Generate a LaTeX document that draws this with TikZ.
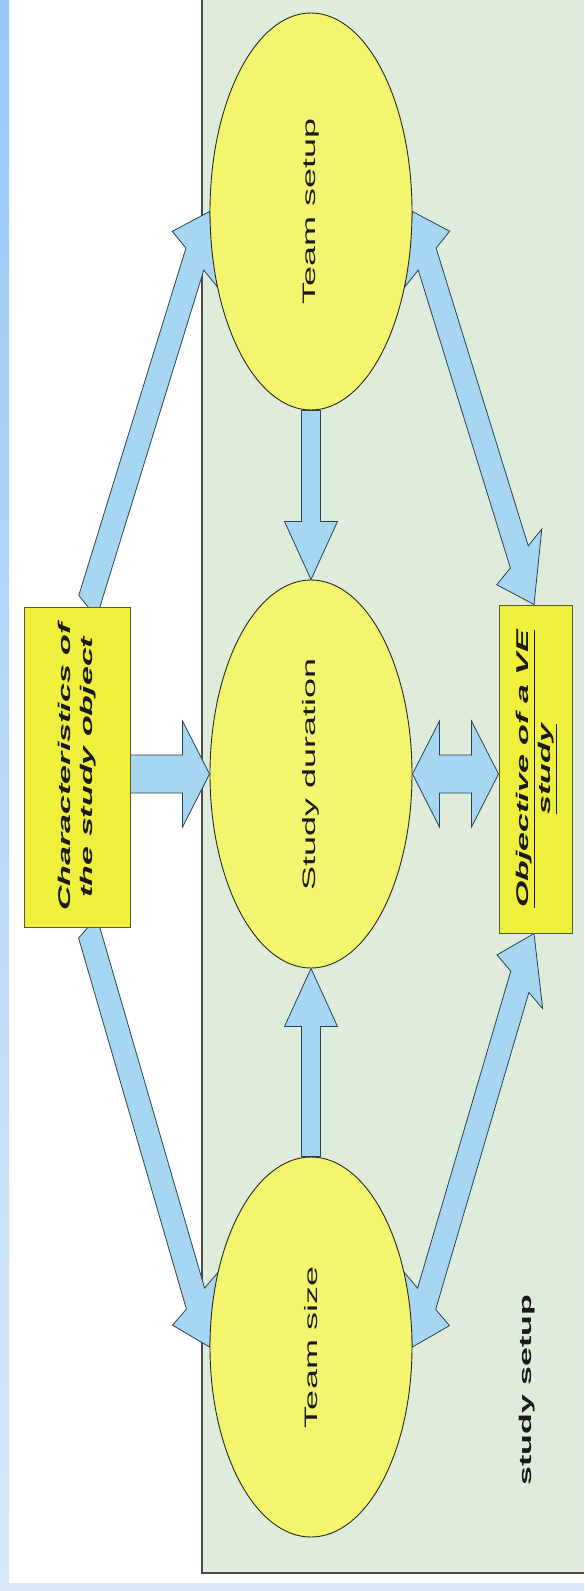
\documentclass[tikz,border=0pt]{standalone}
\usepackage{graphicx}
\usepackage{fontspec}
\setmainfont{Liberation Sans}
\usetikzlibrary{shapes.geometric,calc}
\pgfdeclarelayer{bg}
\pgfdeclarelayer{arr}
\pgfsetlayers{bg,arr,main}

\definecolor{panelfill}{HTML}{DFECDC}
\definecolor{panelline}{HTML}{4A4A4A}
\definecolor{arrowfill}{HTML}{A6D6F2}
\definecolor{arrowline}{HTML}{2A4450}
\definecolor{ellfill}{HTML}{F3F56E}
\definecolor{ellline}{HTML}{2A2A1A}
\definecolor{boxfill}{HTML}{EEF03C}
\definecolor{boxline}{HTML}{5A5A2A}
\definecolor{striptop}{HTML}{98C8FA}
\definecolor{stripbot}{HTML}{D8E8FA}
\definecolor{textcol}{HTML}{1A1A1A}

% block arrows drawn in an unstretched frame, then stretched 2x vertically
\newcommand\arrowsetup[2]{%
  \path (#1); \pgfgetlastxy{\bxa}{\bya}%
  \path (#2); \pgfgetlastxy{\bxb}{\byb}%
  \pgfmathsetmacro\ax{\bxa}\pgfmathsetmacro\ay{\bya}%
  \pgfmathsetmacro\bx{\bxb}\pgfmathsetmacro\by{\byb}%
  \pgfmathsetmacro\bdx{\bx-\ax}%
  \pgfmathsetmacro\bdy{(\by-\ay)/2}%
  \pgfmathsetmacro\blen{veclen(\bdx,\bdy)}%
  \pgfmathsetmacro\bux{\bdx/\blen}%
  \pgfmathsetmacro\buy{\bdy/\blen}%
}
\newcommand\apt[3]{%
  \pgfmathsetmacro\tx{\ax+(#2)*\bux-(#3)*\buy}%
  \pgfmathsetmacro\ty{\ay+2*((#2)*\buy+(#3)*\bux)}%
  \coordinate (#1) at (\tx pt,\ty pt);%
}
\newcommand\onearrow[5]{%
  \arrowsetup{#1}{#2}%
  \apt{q1}{0}{#3}\apt{q2}{\blen-#5}{#3}\apt{q3}{\blen-#5}{#4}\apt{q4}{\blen}{0}%
  \apt{q5}{\blen-#5}{-#4}\apt{q6}{\blen-#5}{-#3}\apt{q7}{0}{-#3}%
  \draw[blockarrow] (q1)--(q2)--(q3)--(q4)--(q5)--(q6)--(q7)--cycle;%
}
\newcommand\twoarrow[5]{%
  \arrowsetup{#1}{#2}%
  \apt{q1}{0}{0}\apt{q2}{#5}{#4}\apt{q3}{#5}{#3}\apt{q4}{\blen-#5}{#3}%
  \apt{q5}{\blen-#5}{#4}\apt{q6}{\blen}{0}\apt{q7}{\blen-#5}{-#4}%
  \apt{q8}{\blen-#5}{-#3}\apt{q9}{#5}{-#3}\apt{q10}{#5}{-#4}%
  \draw[blockarrow] (q1)--(q2)--(q3)--(q4)--(q5)--(q6)--(q7)--(q8)--(q9)--(q10)--cycle;%
}

\begin{document}
\begin{tikzpicture}[x=1pt,y=1pt,
  ell/.style={ellipse, draw=ellline, line width=0.9pt, fill=ellfill,
    minimum width=202pt, inner sep=0pt, text=textcol,
    font=\fontsize{18}{20}\selectfont},
  ybox/.style={rectangle, draw=boxline, line width=1pt, fill=boxfill,
    inner sep=0pt, text=textcol,
    font=\fontsize{17}{22}\selectfont\bfseries\itshape},
  blockarrow/.style={draw=arrowline, line width=0.8pt, fill=arrowfill, line join=miter},
  lbl/.style={inner sep=0pt, text=textcol, font=\fontsize{17}{20}\selectfont\bfseries}
]
\useasboundingbox (0,0) rectangle (584,-1591);

\begin{pgfonlayer}{bg}
  \fill[white] (0,0) rectangle (584,-1591);
  \fill[panelfill] (202,0) rectangle (584,-1573);
  \draw[panelline, line width=1.4pt] (202,0) -- (202,-1573) -- (584,-1573);
  \shade[top color=striptop, bottom color=stripbot] (0,0) rectangle (9,-1591);
  \fill[stripbot] (0,-1583) rectangle (584,-1591);
\end{pgfonlayer}

% nodes
\node[ell, minimum height=397pt] (ts) at (311,-211.5)
  {\rotatebox{90}{\scalebox{2}[1]{Team setup}}};
\node[ell, minimum height=388pt] (sd) at (311,-774)
  {\rotatebox{90}{\scalebox{2}[1]{Study duration}}};
\node[ell, minimum height=380pt] (tz) at (311,-1347)
  {\rotatebox{90}{\scalebox{2}[1]{Team size}}};
\node[ybox, minimum width=106pt, minimum height=320pt] (char) at (77,-767)
  {\rotatebox{90}{\scalebox{2}[1]{\begin{tabular}{@{}c@{}}Characteristics of\\the study object\end{tabular}}}};
\node[ybox, minimum width=73pt, minimum height=328pt] (obj) at (535.5,-769)
  {\rotatebox{90}{\scalebox{2}[1]{\begin{tabular}{@{}c@{}}\underline{Objective of a VE}\\\underline{study}\end{tabular}}}};
\node[lbl] (setup) at (527,-1390) {\rotatebox{90}{\scalebox{2}[1]{study setup}}};

% connectors
\coordinate (ctop) at ($(char.north west)!0.6!(char.north east)$);
\coordinate (cbot) at ($(char.south west)!0.6!(char.south east)$);
\coordinate (otop) at ($(obj.north west)!0.48!(obj.north east)$);
\coordinate (obot) at ($(obj.south west)!0.48!(obj.south east)$);
\coordinate (cmid) at (char.east |- sd.west);
\coordinate (omid) at (sd.east -| obj.west);

\begin{pgfonlayer}{arr}
  \onearrow{ctop}{ts.west}{10.5}{26.5}{28}
  \onearrow{cbot}{tz.west}{10.5}{26.5}{28}
  \twoarrow{ts.east}{otop}{10.5}{26.5}{28}
  \twoarrow{tz.east}{obot}{10.5}{26.5}{28}
  \onearrow{ts.south}{sd.north}{9.5}{26.5}{29}
  \onearrow{tz.north}{sd.south}{9.5}{26.5}{29}
  \onearrow{cmid}{sd.west}{9.5}{26.5}{27}
  \twoarrow{sd.east}{omid}{9.5}{26.5}{27}
\end{pgfonlayer}
\end{tikzpicture}
\end{document}
